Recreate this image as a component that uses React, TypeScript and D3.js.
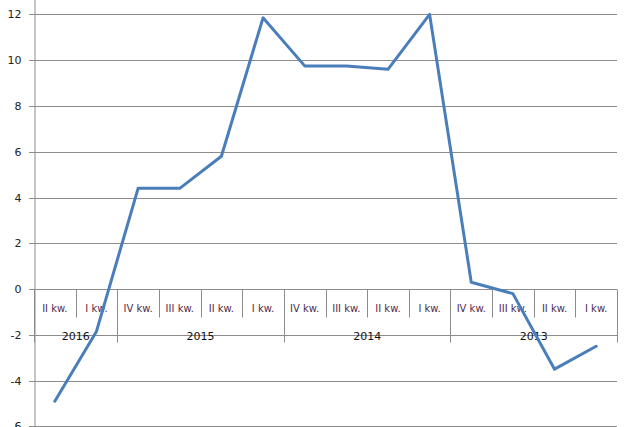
import { FC, useEffect, RefObject, createRef } from "react";
import * as d3 from "d3";

const ref: RefObject<SVGSVGElement> = createRef();

const width = 640,
  height = 427;

const plot = { left: 34, right: 617 };

// category labels (newest quarter first, as in the source)
const quarters = [
  "II kw.", "I kw.",
  "IV kw.", "III kw.", "II kw.", "I kw.",
  "IV kw.", "III kw.", "II kw.", "I kw.",
  "IV kw.", "III kw.", "II kw.", "I kw.",
];
const yearOfQuarter = [
  "2016", "2016",
  "2015", "2015", "2015", "2015",
  "2014", "2014", "2014", "2014",
  "2013", "2013", "2013", "2013",
];
const values = [-4.9, -1.85, 4.4, 4.4, 5.8, 11.85, 9.75, 9.75, 9.6, 12.0, 0.3, -0.2, -3.5, -2.5];
const yTicks = [-6, -4, -2, 0, 2, 4, 6, 8, 10, 12];

const gridColor = "#8c8c8c";
const lineColor = "#4a7ebb";

const App: FC = () => {
  useEffect(() => {
    const svg = d3.select(ref.current);
    svg.selectAll("*").remove();

    const idx = quarters.map((_, i) => String(i));

    const x = d3.scaleBand().domain(idx).range([plot.left, plot.right]);
    const y = d3.scaleLinear().domain([-6, 14]).range([426.4, -31.4]);

    // horizontal gridlines
    svg
      .append("g")
      .selectAll("line")
      .data(yTicks)
      .join("line")
      .attr("x1", plot.left - 5)
      .attr("x2", plot.right)
      .attr("y1", (d) => Math.round(y(d)) + 0.5)
      .attr("y2", (d) => Math.round(y(d)) + 0.5)
      .attr("stroke", gridColor)
      .attr("stroke-width", 1);

    // y axis (plain hyphen for negatives, like the source)
    svg
      .append("g")
      .attr("transform", `translate(${plot.left + 0.5},0)`)
      .call(
        d3
          .axisLeft(y)
          .tickValues(yTicks)
          .tickSize(0)
          .tickPadding(13)
          .tickFormat((d) => String(d))
      )
      .call((g) => g.select(".domain").attr("stroke", gridColor))
      .call((g) =>
        g
          .selectAll("text")
          .attr("fill", "#222")
          .style("font-family", "'DejaVu Sans', sans-serif")
          .style("font-size", "11px")
      );

    // category axis: separators
    const y0 = Math.round(y(0)) + 0.5;
    const bounds = d3.range(quarters.length + 1);
    const edgeX = (i: number) =>
      Math.round(i < quarters.length ? (x(String(i)) as number) : plot.right) + 0.5;
    const isYearEdge = (i: number) =>
      i === 0 || i === quarters.length || yearOfQuarter[i] !== yearOfQuarter[i - 1];

    svg
      .append("g")
      .selectAll("line")
      .data(bounds)
      .join("line")
      .attr("x1", edgeX)
      .attr("x2", edgeX)
      .attr("y1", y0)
      .attr("y2", (i) => (isYearEdge(i) ? y0 + 53 : y0 + 28))
      .attr("stroke", gridColor);

    // quarter labels
    svg
      .append("g")
      .selectAll("text")
      .data(quarters)
      .join("text")
      .attr("x", (_, i) => (x(String(i)) as number) + x.bandwidth() / 2)
      .attr("y", y0 + 22)
      .attr("text-anchor", "middle")
      .attr("fill", "#512c4c")
      .style("font-family", "'DejaVu Sans', sans-serif")
      .style("font-size", "10px")
      .text((d) => d);

    // year labels, centred over their quarters
    const years = Array.from(new Set(yearOfQuarter));
    svg
      .append("g")
      .selectAll("text")
      .data(years)
      .join("text")
      .attr("x", (yr) => {
        const first = yearOfQuarter.indexOf(yr);
        const last = yearOfQuarter.lastIndexOf(yr);
        return ((x(String(first)) as number) + (x(String(last)) as number) + x.bandwidth()) / 2;
      })
      .attr("y", y0 + 50)
      .attr("text-anchor", "middle")
      .attr("fill", "#111")
      .style("font-family", "'DejaVu Sans', sans-serif")
      .style("font-size", "11px")
      .text((d) => d);

    // series line
    const line = d3
      .line<number>()
      .x((_, i) => (x(String(i)) as number) + x.bandwidth() / 2)
      .y((d) => y(d));

    svg
      .append("path")
      .datum(values)
      .attr("d", line)
      .attr("fill", "none")
      .attr("stroke", lineColor)
      .attr("stroke-width", 3)
      .attr("stroke-linejoin", "round")
      .attr("stroke-linecap", "round");
  }, []);

  return (
    <svg
      ref={ref}
      width={width}
      height={height}
      style={{ position: "absolute", left: 0, top: 0, background: "#fff" }}
    />
  );
};

export default App;
